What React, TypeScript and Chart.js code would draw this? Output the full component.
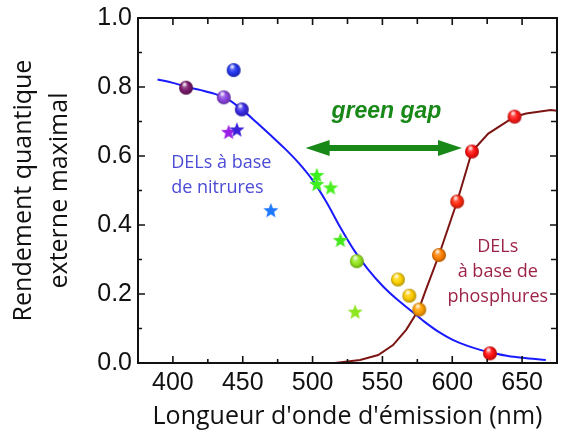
import React, { useEffect, useRef } from 'react';
import { Chart, registerables } from 'chart.js';

Chart.register(...registerables);

// ---- axes ----
const X_MIN = 375;
const X_MAX = 675;
const Y_MIN = 0;
const Y_MAX = 1.0;
const xTickValues = [400, 450, 500, 550, 600, 650];
const xMinorTickValues = [425, 475, 525, 575, 625];
const yTickValues = [0, 0.2, 0.4, 0.6, 0.8, 1.0];
const yMinorTickValues = [0.1, 0.3, 0.5, 0.7, 0.9];

// ---- nitride LED fit curve (blue) ----
const nitrideCurveX = [389, 400, 410, 420, 430, 440, 450, 460, 470, 480, 490, 500, 510, 520, 530, 540, 550, 560, 570, 580, 590, 600, 610, 620, 630, 640, 650, 667];
const nitrideCurveY = [0.822, 0.812, 0.8, 0.791, 0.78, 0.763, 0.733, 0.697, 0.66, 0.622, 0.58, 0.53, 0.466, 0.392, 0.325, 0.27, 0.224, 0.186, 0.153, 0.12, 0.091, 0.068, 0.051, 0.038, 0.028, 0.02, 0.015, 0.009];

// ---- phosphide LED curve (dark red) ----
const phosphideCurveX = [516, 534, 547, 557.6, 567, 573.6, 577.6, 581.1, 590.5, 603.5, 614.1, 625.8, 644.6, 652.9, 670.5, 675];
const phosphideCurveY = [0.0, 0.009, 0.023, 0.052, 0.096, 0.139, 0.173, 0.212, 0.313, 0.468, 0.613, 0.665, 0.714, 0.723, 0.733, 0.731];

// ---- measured LEDs shown as spheres ----
const ballX = [409.4, 436.4, 443.5, 449.3, 531.7, 561.1, 569.3, 576.4, 590.5, 603.5, 614.1, 627, 644.6];
const ballY = [0.798, 0.77, 0.849, 0.735, 0.295, 0.242, 0.195, 0.155, 0.313, 0.468, 0.613, 0.028, 0.714];
const ballColors = ['#7a1a6c', '#8a44e0', '#2636f0', '#3a2ce6', '#94e61e', '#ffd400', '#ffcc00', '#ffa000', '#ff8000', '#ff2a10', '#ff1212', '#ff1010', '#ff1a1a'];

// ---- measured LEDs shown as stars ----
const starX = [439.9, 445.8, 470.1, 503, 503, 512.9, 519.9, 530.5];
const starY = [0.67, 0.677, 0.443, 0.545, 0.519, 0.509, 0.357, 0.149];
const starColors = ['#9a1ee6', '#3a22d8', '#1e78ff', '#3cf01e', '#3cf01e', '#46ee1e', '#44e81a', '#8ce61e'];

// ---- annotations ----
const nitrideLabelLines = ['DELs à base', 'de nitrures'];
const phosphideLabelLines = ['DELs', 'à base de', 'phosphures'];
const gapLabel = 'green gap';

function hexToRgb(h: string) {
  const v = parseInt(h.slice(1), 16);
  return [(v >> 16) & 255, (v >> 8) & 255, v & 255];
}
function mix(h: string, target: number, t: number) {
  const [r, g, b] = hexToRgb(h);
  const f = (c: number) => Math.round(c + (target - c) * t);
  return `rgb(${f(r)},${f(g)},${f(b)})`;
}

function makeBall(color: string, r: number) {
  const size = Math.ceil(r * 2 + 2);
  const c = document.createElement('canvas');
  c.width = size;
  c.height = size;
  const g = c.getContext('2d')!;
  const cx = size / 2, cy = size / 2;
  const grad = g.createRadialGradient(cx - r * 0.3, cy - r * 0.35, r * 0.1, cx, cy, r);
  grad.addColorStop(0, mix(color, 255, 0.35));
  grad.addColorStop(0.55, color);
  grad.addColorStop(1, mix(color, 0, 0.3));
  g.fillStyle = grad;
  g.beginPath();
  g.arc(cx, cy, r, 0, Math.PI * 2);
  g.fill();
  const hx = cx - r * 0.2, hy = cy - r * 0.5;
  const hg = g.createRadialGradient(hx, hy, 0, hx, hy, r * 0.45);
  hg.addColorStop(0, 'rgba(255,255,255,0.95)');
  hg.addColorStop(1, 'rgba(255,255,255,0)');
  g.fillStyle = hg;
  g.beginPath();
  g.arc(cx, cy, r, 0, Math.PI * 2);
  g.fill();
  return c;
}

function makeStar(color: string, ro: number) {
  const size = Math.ceil(ro * 2 + 2);
  const c = document.createElement('canvas');
  c.width = size;
  c.height = size;
  const g = c.getContext('2d')!;
  const cx = size / 2, cy = size / 2 + 0.8;
  const ri = ro * 0.42;
  g.beginPath();
  for (let i = 0; i < 10; i++) {
    const a = -Math.PI / 2 + (i * Math.PI) / 5;
    const rr = i % 2 === 0 ? ro : ri;
    const px = cx + rr * Math.cos(a), py = cy + rr * Math.sin(a);
    if (i === 0) g.moveTo(px, py); else g.lineTo(px, py);
  }
  g.closePath();
  g.fillStyle = color;
  g.fill();
  return c;
}

const framePlugin = {
  id: 'frameAndNotes',
  afterDatasetsDraw(chart: any) {
    const { ctx, chartArea: a, scales } = chart;
    const xs = scales.x, ys = scales.y;
    ctx.save();
    // frame
    ctx.strokeStyle = '#111';
    ctx.lineWidth = 2;
    ctx.strokeRect(a.left, a.top, a.right - a.left, a.bottom - a.top);
    // inward ticks
    ctx.lineWidth = 1.6;
    ctx.beginPath();
    const xt = (v: number, lb: number, lt: number) => {
      const p = xs.getPixelForValue(v);
      ctx.moveTo(p, a.bottom); ctx.lineTo(p, a.bottom - lb);
      ctx.moveTo(p, a.top); ctx.lineTo(p, a.top + lt);
    };
    xTickValues.forEach(v => xt(v, 7, 7));
    xMinorTickValues.forEach(v => xt(v, 4, 6));
    const yt = (v: number, ll: number, lr: number) => {
      const p = ys.getPixelForValue(v);
      ctx.moveTo(a.left, p); ctx.lineTo(a.left + ll, p);
      ctx.moveTo(a.right, p); ctx.lineTo(a.right - lr, p);
    };
    yTickValues.forEach(v => yt(v, 7, 7));
    yMinorTickValues.forEach(v => yt(v, 4, 6));
    ctx.stroke();

    // green gap arrow
    const ax1 = xs.getPixelForValue(495), ax2 = xs.getPixelForValue(607);
    const ay = ys.getPixelForValue(0.623);
    const hl = 24, hh = 8;
    ctx.fillStyle = '#188818';
    ctx.strokeStyle = '#188818';
    ctx.lineWidth = 6;
    ctx.beginPath();
    ctx.moveTo(ax1 + hl - 2, ay); ctx.lineTo(ax2 - hl + 2, ay);
    ctx.stroke();
    ctx.beginPath();
    ctx.moveTo(ax1, ay); ctx.lineTo(ax1 + hl, ay - hh); ctx.lineTo(ax1 + hl, ay + hh); ctx.closePath();
    ctx.fill();
    ctx.beginPath();
    ctx.moveTo(ax2, ay); ctx.lineTo(ax2 - hl, ay - hh); ctx.lineTo(ax2 - hl, ay + hh); ctx.closePath();
    ctx.fill();

    ctx.font = 'italic bold 23px "Liberation Sans", Arial, sans-serif';
    ctx.textAlign = 'center';
    ctx.textBaseline = 'alphabetic';
    ctx.fillText(gapLabel, xs.getPixelForValue(552.9), ys.getPixelForValue(0.71));

    ctx.font = '18px "Open Sans", sans-serif';
    ctx.fillStyle = '#4b4bd6';
    ctx.textAlign = 'left';
    const nx = xs.getPixelForValue(398.8);
    const ny = [0.565, 0.493];
    nitrideLabelLines.forEach((t, i) => ctx.fillText(t, nx, ys.getPixelForValue(ny[i])));

    ctx.fillStyle = '#9c2346';
    ctx.textAlign = 'center';
    const px = xs.getPixelForValue(632.6);
    const py = [0.322, 0.249, 0.177];
    phosphideLabelLines.forEach((t, i) => ctx.fillText(t, px, ys.getPixelForValue(py[i])));
    ctx.restore();
  },
};

const noPad = (s: any) => {
  s.paddingLeft = 0;
  s.paddingRight = 0;
  s.paddingTop = 0;
  s.paddingBottom = 0;
};

export default function App() {
  const ref = useRef<HTMLCanvasElement | null>(null);
  useEffect(() => {
    if (!ref.current) return;
    const ballImgs = ballColors.map(c => makeBall(c, 7));
    const starImgs = starColors.map(c => makeStar(c, 8));
    const chart = new Chart(ref.current, {
      type: 'scatter',
      data: {
        datasets: [
          {
            label: 'DELs (sphères)',
            data: ballX.map((x, i) => ({ x, y: ballY[i] })),
            pointStyle: ballImgs as any,
            pointRadius: 7,
            showLine: false,
            order: 0,
          },
          {
            label: 'DELs (étoiles)',
            data: starX.map((x, i) => ({ x, y: starY[i] })),
            pointStyle: starImgs as any,
            pointRadius: 7,
            showLine: false,
            order: 1,
          },
          {
            label: 'DELs à base de nitrures',
            data: nitrideCurveX.map((x, i) => ({ x, y: nitrideCurveY[i] })),
            showLine: true,
            borderColor: '#1a1aff',
            borderWidth: 2,
            pointRadius: 0,
            cubicInterpolationMode: 'monotone',
            order: 3,
          },
          {
            label: 'DELs à base de phosphures',
            data: phosphideCurveX.map((x, i) => ({ x, y: phosphideCurveY[i] })),
            showLine: true,
            borderColor: '#7d1414',
            borderWidth: 2,
            pointRadius: 0,
            tension: 0,
            order: 2,
          },
        ],
      },
      options: {
        responsive: false,
        animation: false,
        events: [],
        layout: { padding: { top: 18, right: 0, left: 0, bottom: 0 } },
        plugins: { legend: { display: false }, tooltip: { enabled: false } },
        scales: {
          x: {
            type: 'linear',
            min: X_MIN,
            max: X_MAX,
            afterFit: (s: any) => { s.height = 76; noPad(s); },
            afterBuildTicks: (s: any) => { s.ticks = xTickValues.map(v => ({ value: v })); },
            grid: { display: false, drawTicks: false },
            border: { display: false },
            ticks: {
              padding: 5,
              color: '#111',
              font: { family: '"Liberation Sans", Arial, sans-serif', size: 25, lineHeight: 1.2 },
              callback: (v: any) => String(v),
              maxRotation: 0,
            },
            title: {
              display: true,
              text: "Longueur d'onde d'émission (nm)",
              color: '#111',
              font: { family: '"Open Sans", sans-serif', size: 25, lineHeight: 1.44 },
              padding: { top: 0, bottom: 4 },
            },
          },
          y: {
            type: 'linear',
            min: Y_MIN,
            max: Y_MAX,
            afterFit: (s: any) => { s.width = 138; noPad(s); },
            afterBuildTicks: (s: any) => { s.ticks = yTickValues.map(v => ({ value: v })); },
            grid: { display: false, drawTicks: false },
            border: { display: false },
            ticks: {
              padding: 6,
              color: '#111',
              font: { family: '"Liberation Sans", Arial, sans-serif', size: 25, lineHeight: 1.2 },
              callback: (v: any) => Number(v).toFixed(1),
            },
            title: {
              display: true,
              text: ['Rendement quantique', 'externe maximal'],
              color: '#111',
              font: { family: '"Open Sans", sans-serif', size: 25, lineHeight: 1.44 },
              padding: { top: 6, bottom: 0 },
            },
          },
        },
      },
      plugins: [framePlugin],
    } as any);
    return () => chart.destroy();
  }, []);
  return (
    <div style={{ position: 'absolute', left: 0, top: 0, width: 565, height: 439, background: '#fff' }}>
      <canvas ref={ref} width={565} height={439} style={{ display: 'block' }} />
    </div>
  );
}
